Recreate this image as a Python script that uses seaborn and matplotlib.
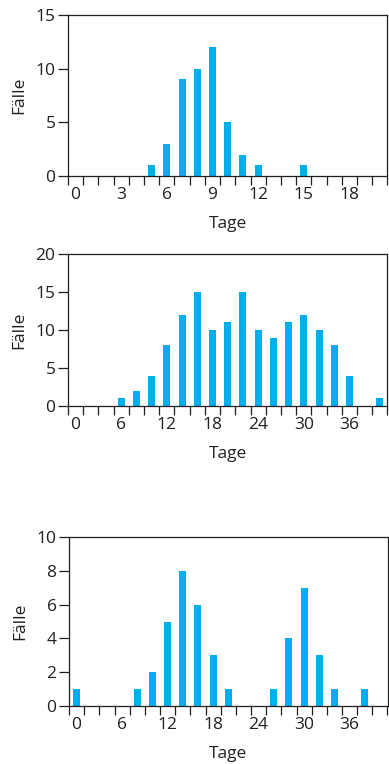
import numpy as np
import pandas as pd
import seaborn as sns
from matplotlib import pyplot as plt
from matplotlib.ticker import FixedLocator

# Daten (Fälle pro Tag bzw. pro 2-Tage-Intervall)
tage1 = list(range(0, 21))
faelle1 = [0, 0, 0, 0, 0, 1, 3, 9, 10, 12, 5, 2, 1, 0, 0, 1, 0, 0, 0, 0, 0]
ticks1 = [0, 3, 6, 9, 12, 15, 18]

tage2 = list(range(0, 41, 2))
faelle2 = [0, 0, 0, 1, 2, 4, 8, 12, 15, 10, 11, 15, 10, 9, 11, 12, 10, 8, 4, 0, 1]
ticks2 = [0, 6, 12, 18, 24, 30, 36]

tage3 = list(range(0, 41, 2))
faelle3 = [1, 0, 0, 0, 1, 2, 5, 8, 6, 3, 1, 0, 0, 1, 4, 7, 3, 1, 0, 1, 0]
ticks3 = [0, 6, 12, 18, 24, 30, 36]

ymax = [15, 20, 10]
ystep = [5, 5, 2]

sns.set_style("ticks")
plt.rcParams['font.family'] = ['Open Sans', 'DejaVu Sans']
text_col = '#231f20'
bar_col = '#00aeef'
fs = 12.5

fig = plt.figure(figsize=(3.89, 7.64), dpi=100)
# Achsenpositionen [links, unten, breite, hoehe] in Figurkoordinaten
boxes = [[68/389, 1 - 176/764, 319.5/389, 161/764],
         [68/389, 1 - 406/764, 319.5/389, 152/764],
         [69/389, 1 - 706/764, 318.5/389, 169/764]]

panels = [(tage1, faelle1, ticks1), (tage2, faelle2, ticks2), (tage3, faelle3, ticks3)]

for i, (tage, faelle, tl) in enumerate(panels):
    ax = fig.add_axes(boxes[i])
    df = pd.DataFrame({'Tage': tage, 'Fälle': faelle})
    sns.barplot(data=df, x='Tage', y='Fälle', order=tage, color=bar_col,
                saturation=1, width=0.46, linewidth=0, ax=ax)
    n = len(tage)
    ax.set_xlim(-0.5, n - 0.5)
    ax.set_ylim(0, ymax[i])
    ax.set_yticks(np.arange(0, ymax[i] + 1, ystep[i]))
    # Beschriftung in Intervallmitte, Striche an Intervallgrenzen
    pos = [tage.index(t) for t in tl]
    ax.set_xticks(pos)
    ax.set_xticklabels([str(t) for t in tl])
    ax.xaxis.set_minor_locator(FixedLocator(np.arange(-0.5, n, 1.0)))
    ax.tick_params(axis='x', which='major', length=0, pad=8, labelsize=fs, colors=text_col)
    ax.tick_params(axis='x', which='minor', length=6.5, width=0.9, color=text_col, direction='out')
    ax.tick_params(axis='y', length=7, width=0.9, color=text_col, labelsize=fs,
                   labelcolor=text_col, pad=2)
    for s in ax.spines.values():
        s.set_visible(True)
        s.set_color(text_col)
        s.set_linewidth(0.9)
    ax.set_xlabel('Tage', fontsize=fs, color=text_col, labelpad=9)
    ax.set_ylabel('Fälle', fontsize=fs, color=text_col, labelpad=6)

fig.savefig('out.png', dpi=100)
